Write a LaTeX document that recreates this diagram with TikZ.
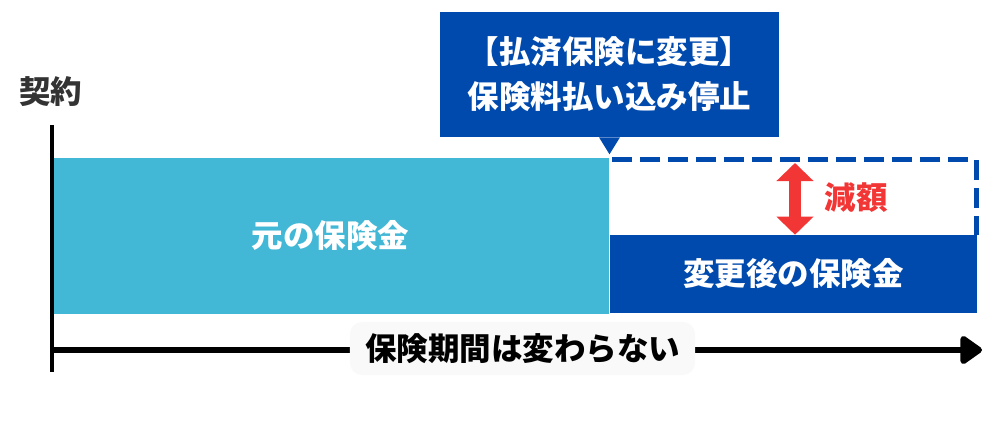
\documentclass[tikz,border=0pt]{standalone}
\usepackage{fontspec}
\setmainfont{Noto Sans CJK JP}
\usepackage{tikz}
\usetikzlibrary{arrows.meta, positioning, calc}
\usepackage{xcolor}
\definecolor{origcyan}{HTML}{42B8D6}
\definecolor{newblue}{HTML}{004AAD}
\definecolor{gapred}{HTML}{F23535}
\definecolor{labelgray}{HTML}{333333}
\definecolor{periodbg}{HTML}{F9F9F9}

\begin{document}
\begin{tikzpicture}[
    x=0.025cm, y=-0.025cm,
    jp/.style={font=\bfseries\fontsize{22.4}{32}\selectfont},
    bar/.style={rectangle, inner sep=0pt, jp, text=white},
    origbar/.style={bar, fill=origcyan, minimum width=13.925cm, minimum height=3.9cm},
    newbar/.style={bar, fill=newblue, minimum width=9.175cm, minimum height=1.95cm},
    callout/.style={bar, fill=newblue, minimum width=8.475cm, minimum height=3.125cm, align=center},
    periodlabel/.style={rectangle, rounded corners=0.3cm, fill=periodbg, jp, text=black, inner sep=0pt, minimum width=8.625cm, minimum height=1.325cm},
    axisline/.style={draw=black, line width=0.1cm},
    axisarrow/.style={draw=black, line width=0.15cm, -{Triangle[round, length=0.6cm, width=0.8cm]}},
    dashedline/.style={draw=newblue, line width=0.125cm, dash pattern=on 0.5cm off 0.2cm},
    gaparrow/.style={draw=gapred, line width=0.3cm, {Triangle[length=0.45cm, width=0.9cm]}-{Triangle[length=0.45cm, width=0.9cm]}}
]
\useasboundingbox (0,0) rectangle (1000,425);

% Bars
\node[origbar] (orig) at (330.5,236) {元の保険金};
\node[newbar] (new) at (793.5,274) {変更後の保険金};

% Dashed outline of the original amount
\coordinate (dashstart) at (612,160);
\coordinate (dashcorner) at (976,160);
\draw[dashedline] (dashstart) -- (dashcorner) -- (dashcorner |- new.north);

% Reduction arrow
\coordinate (gaptop) at (795,163);
\draw[gaparrow] (gaptop) -- (gaptop |- new.north);
\node[jp, text=gapred, inner sep=0pt] (gaplabel) at (856,198) {減額};

% Callout
\node[callout] (change) at (609.5,74.5) {【払済保険に変更】\\保険料払い込み停止};
\fill[newblue] ($(change.south)+(-10.5,0)$) -- ($(change.south)+(0,17)$) -- ($(change.south)+(10.5,0)$) -- cycle;

% Axes
\node[jp, text=labelgray, inner sep=0pt] (contract) at (51,92) {契約};
\draw[axisline] (52,125) -- (52,372);
\coordinate (axisorigin) at (52,350);
\coordinate (axisend) at (982,350);
\draw[axisarrow] (axisorigin) -- (axisend);
\node[periodlabel] (period) at (522.5,348.5) {保険期間は変わらない};

\end{tikzpicture}
\end{document}
